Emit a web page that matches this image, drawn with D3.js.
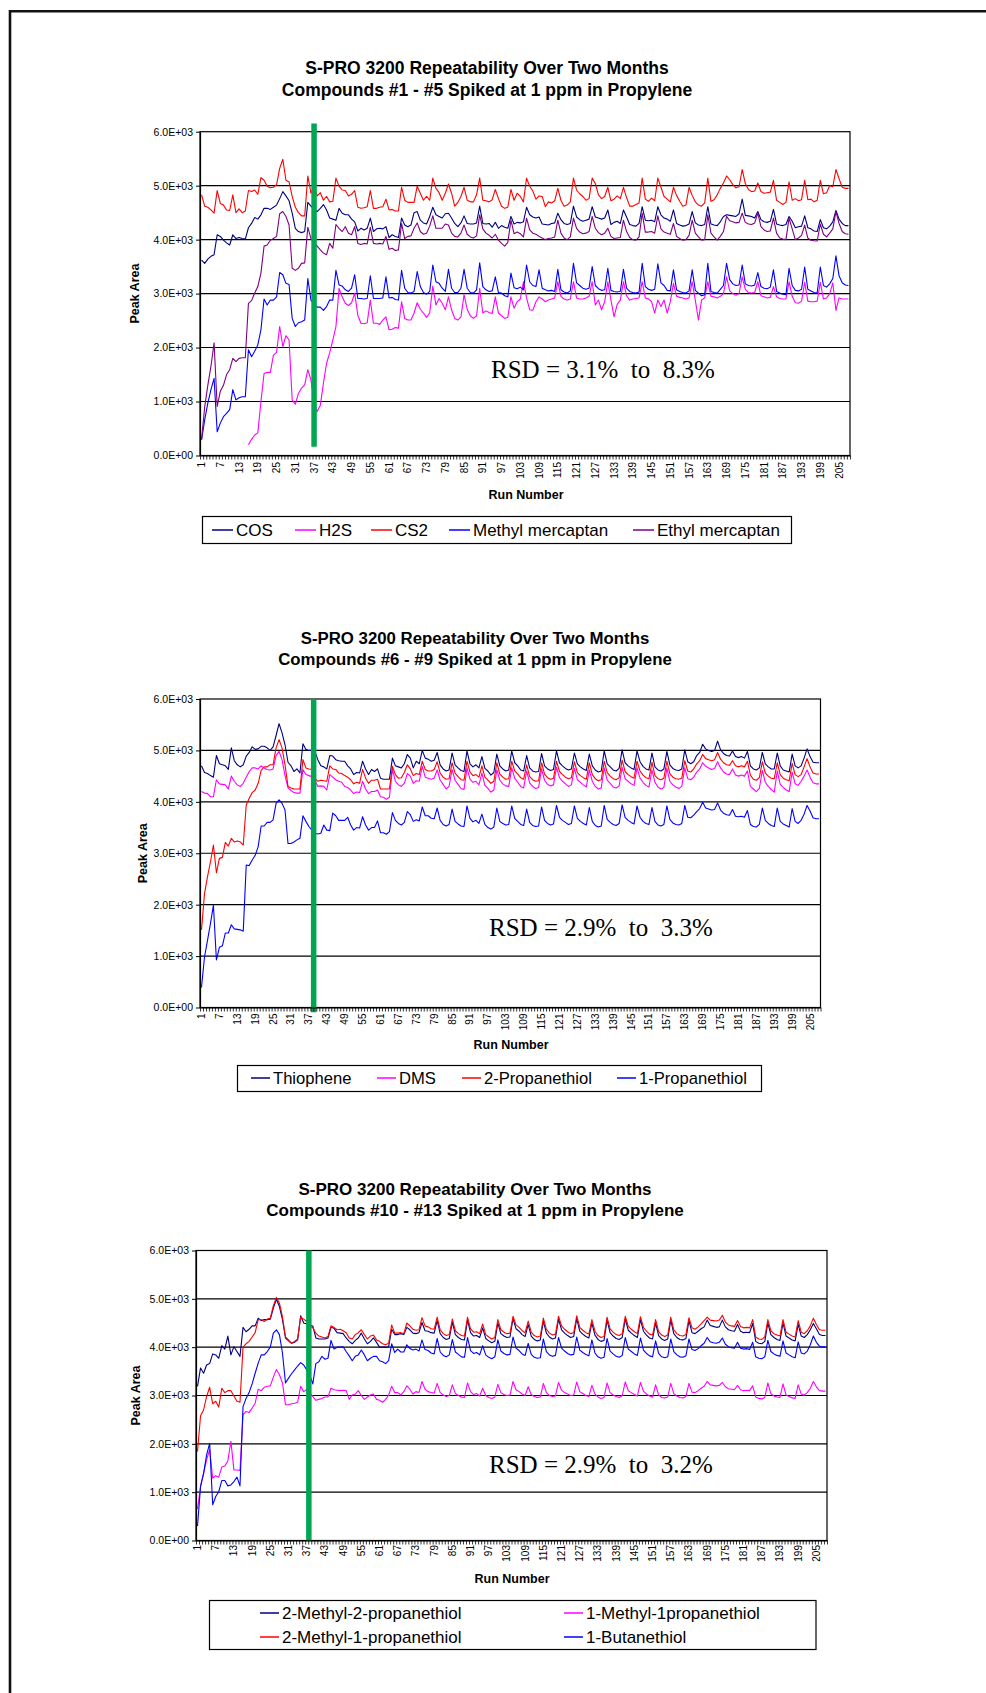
<!DOCTYPE html>
<html>
<head>
<meta charset="utf-8">
<script src="https://cdn.jsdelivr.net/npm/d3@7"></script>
<style>
html,body{margin:0;padding:0;background:#fff;overflow:hidden;}
svg{display:block;}
</style>
</head>
<body>
<svg id="page" width="986" height="1693"></svg>
<script>
// ---------------- DATA ----------------
const runNumbers = d3.range(1, 209);            // runs 1..208 (categories)
const xTickRuns = d3.range(1, 209, 6);          // 1, 7, 13, ... 205
const yTicks = [0, 1000, 2000, 3000, 4000, 5000, 6000];

const chart1Title = ["S-PRO 3200 Repeatability Over Two Months", "Compounds #1 - #5 Spiked at 1 ppm in Propylene"];
const chart2Title = ["S-PRO 3200 Repeatability Over Two Months", "Compounds #6 - #9 Spiked at 1 ppm in Propylene"];
const chart3Title = ["S-PRO 3200 Repeatability Over Two Months", "Compounds #10 - #13 Spiked at 1 ppm in Propylene"];
const rsdTexts = ["RSD = 3.1%  to  8.3%", "RSD = 2.9%  to  3.3%", "RSD = 2.9%  to  3.2%"];
const markerRuns = [37, 38.6, 37.7];

// Chart 1
const cos = [
3620,3560,3640,3690,3720,4090,4060,3990,3940,3900,
4090,4020,4040,4020,4010,4220,4300,4410,4380,4460,
4580,4580,4560,4600,4640,4760,4890,4810,4720,4490,
4210,4150,4130,4150,4690,4620,4550,4520,4580,4650,
4550,4400,4380,4360,4580,4490,4460,4460,4380,4330,
4160,4210,4180,4210,4400,4150,4200,4210,4200,4240,
4040,4090,4060,4040,4400,4270,4240,4270,4500,4520,
4360,4310,4290,4430,4600,4460,4430,4400,4480,4490,
4400,4300,4240,4310,4440,4300,4290,4290,4310,4620,
4300,4290,4300,4230,4320,4210,4260,4230,4210,4430,
4290,4320,4310,4330,4600,4460,4420,4400,4420,4290,
4280,4270,4300,4310,4490,4370,4300,4280,4300,4620,
4420,4370,4340,4360,4380,4610,4420,4400,4380,4400,
4550,4280,4320,4340,4300,4550,4420,4280,4260,4250,
4300,4610,4360,4350,4360,4330,4610,4460,4400,4380,
4340,4550,4300,4270,4250,4260,4290,4520,4310,4270,
4260,4280,4610,4290,4270,4260,4330,4430,4460,4450,
4440,4430,4480,4750,4450,4440,4430,4400,4520,4370,
4330,4320,4340,4560,4290,4270,4260,4280,4430,4340,
4220,4240,4250,4440,4220,4200,4160,4150,4370,4220,
4200,4250,4330,4540,4380,4300,4260,4260];
const h2s = [
null,null,null,null,null,null,null,null,null,null,
null,null,null,null,null,200,300,380,420,1000,
1520,1540,1540,1860,1910,2390,2020,2220,2140,1030,
950,1150,1250,1310,1590,1400,1000,815,930,1340,
1710,1900,2140,2390,3100,2940,2820,2780,2830,3010,
2600,2450,2440,2460,2880,2450,2450,2430,2510,2570,
2330,2340,2370,2360,2850,2540,2510,2510,2640,2830,
2710,2640,2560,2640,3140,2790,2910,2820,2700,2940,
2700,2540,2510,2570,2980,2710,2590,2540,2590,3100,
2640,2680,2650,2630,2940,2640,2590,2540,2560,2940,
2730,2850,2900,3220,2920,2700,2690,2850,2940,2900,
2850,2880,2900,2920,3220,2950,2900,2880,2900,3220,
2920,2900,2900,2920,2950,3220,2790,2880,2700,2850,
3220,2880,2570,2800,2880,3220,2960,2880,2900,2910,
2920,3220,2920,2900,2850,2640,2880,2760,2880,2640,
2850,3190,2950,2930,2920,2900,2920,3220,2880,2510,
2880,2920,3220,2950,2940,2920,2950,3000,3310,3050,
3000,2970,3000,3310,3080,3020,3010,3020,3220,2960,
2940,2920,2930,3130,2940,2910,2900,2900,3220,2950,
2830,2820,2860,3210,2860,2850,2850,2860,3210,2900,
2920,3000,3200,2690,2920,2900,2900,2900];
const cs2 = [
4830,4620,4600,4550,4490,4910,4670,4640,4550,4540,
4830,4500,4570,4500,4530,4910,4890,4920,4840,5150,
5100,4990,4960,4970,5020,5320,5490,5100,5070,4800,
4600,4500,4440,4440,5180,4860,4980,4810,4870,4730,
4800,4700,4710,5140,4990,4920,4910,4810,4840,4910,
4600,4580,4590,4610,4910,4580,4580,4600,4610,4750,
4550,4560,4530,4530,4970,4730,4690,4690,4690,4990,
4860,4730,4800,4730,5140,4950,4870,4730,4860,5030,
4860,4620,4690,4800,4970,4730,4700,4700,4830,5140,
4730,4720,4700,4740,4930,4760,4620,4580,4600,4930,
4730,4860,4800,4700,5140,4990,4900,4750,4810,4800,
4610,4700,4680,4720,4950,4730,4620,4640,4700,5140,
4920,4850,4800,4730,4760,5140,5040,4830,4760,4800,
4970,4720,4750,4810,4760,4970,4780,4620,4620,4650,
4680,5140,4750,4710,4770,4720,5140,4970,4800,4750,
4700,4970,4820,4710,4620,4640,4970,4820,4700,4640,
4620,4680,5140,4710,4740,4830,4950,5050,5180,5110,
5020,4960,4980,5300,5040,4930,4890,4900,5050,4890,
4860,4870,4880,5100,4730,4690,4650,4690,5070,4730,
4760,4720,4740,5100,4740,4750,4700,4730,5100,4850,
4870,5000,4980,5300,5130,4970,4950,4950];
const methylMercaptan = [
290,660,970,1220,1430,440,600,720,780,850,
1220,1030,1070,1090,1090,1960,1830,1930,2050,2330,
2900,2790,2880,2880,2940,3390,3350,3190,3170,2540,
2390,2460,2480,2510,3280,2880,2800,2750,2750,2690,
2760,2880,2880,3430,3160,3140,3070,3040,3100,3350,
2910,2910,2900,2910,3330,2910,2910,2910,2920,3310,
2920,2930,2890,2880,3430,3100,3020,3010,3040,3410,
3130,3020,2990,3040,3530,3220,3190,3100,3040,3450,
3100,3020,3020,3100,3450,3100,3020,3010,3070,3570,
3130,3070,3040,3050,3310,3020,3010,2960,2940,3380,
3110,3090,3120,3070,3530,3220,3150,3130,3440,3100,
3070,3050,3060,3040,3450,3070,3030,3010,3050,3560,
3200,3150,3100,3080,3100,3500,3150,3090,3060,3070,
3470,3060,3040,3030,3040,3450,3100,3040,3020,3010,
3030,3560,3130,3080,3060,3080,3550,3200,3150,3060,
3050,3440,3070,3040,3020,3010,3050,3440,3060,3010,
2960,2980,3560,3040,3020,3010,3080,3150,3560,3260,
3180,3150,3160,3530,3180,3150,3140,3160,3390,3130,
3100,3090,3120,3440,3040,3010,2990,2980,3470,3150,
3060,3050,3080,3490,3080,3050,3020,3015,3490,3150,
3120,3180,3280,3700,3330,3200,3160,3150];
const ethylMercaptan = [
300,900,1300,1650,2090,910,1190,1300,1500,1590,
1800,1740,1800,1810,1810,2820,2870,3010,3130,3380,
3880,3900,3990,4020,4060,4480,4520,4430,4270,3470,
3430,3470,3560,3570,4230,4020,3950,3880,3810,3750,
3720,3930,3840,4280,4210,4150,4240,4120,4090,4240,
3930,3910,3930,3920,4230,3930,3920,3930,3920,4060,
3820,3840,3800,3810,4300,4020,4060,4070,4210,4310,
4150,4100,4120,4250,4440,4210,4210,4210,4290,4270,
4120,4060,4050,4120,4270,4100,4050,4030,4070,4460,
4200,4120,4080,4030,4100,3990,3930,3880,3950,4360,
4110,4140,4110,4050,4400,4180,4120,4100,4060,4030,
4000,4020,4030,4050,4360,4120,4030,4000,4050,4400,
4210,4140,4110,4120,4150,4430,4210,4130,4090,4120,
4210,4060,4020,4030,4040,4360,4150,4040,4000,3990,
4050,4490,4140,4140,4150,4120,4440,4200,4140,4120,
4100,4300,4060,4020,3990,4000,4080,4360,4120,4050,
3990,4000,4460,4120,4050,3990,4060,4150,4430,4350,
4330,4310,4320,4490,4320,4290,4280,4310,4490,4240,
4180,4150,4160,4400,4120,4030,4010,4000,4400,4200,
4000,4030,4080,4270,4030,3990,3980,3975,4290,4100,
4050,4120,4200,4520,4300,4150,4110,4100];

// Chart 2
const thiophene = [
4700,4570,4550,4510,4480,4900,4740,4720,4700,4630,
5050,4800,4720,4680,4720,4890,4960,5070,5020,5030,
5080,5080,5050,5000,5070,5290,5520,5340,5110,4770,
4700,4590,4640,4560,5130,5020,5000,5000,4980,4820,
4700,4680,4640,4900,4890,4820,4800,4790,4790,4700,
4640,4530,4570,4560,4790,4640,4530,4630,4590,4640,
4460,4440,4440,4440,4850,4700,4680,4660,4740,4920,
4850,4660,4790,4740,5000,4850,4830,4790,4810,4960,
4720,4640,4600,4620,4950,4720,4660,4610,4590,4990,
4740,4680,4720,4660,4880,4650,4600,4520,4570,4930,
4700,4640,4600,4620,4990,4760,4700,4620,4600,4900,
4660,4600,4580,4590,4940,4700,4640,4610,4630,4990,
4760,4700,4650,4620,4640,4950,4740,4680,4640,4610,
4930,4700,4620,4580,4600,4990,4740,4680,4620,4600,
4650,5010,4760,4700,4660,4630,4990,4780,4690,4640,
4620,4950,4680,4620,4600,4640,4980,4720,4650,4620,
4610,4640,5010,4780,4740,4780,4900,4960,5120,5030,
5000,4980,5000,5180,5010,4940,4900,4890,4990,4880,
4860,4880,4850,4980,4700,4640,4620,4660,4960,4740,
4680,4640,4640,4950,4700,4620,4600,4580,4930,4700,
4660,4700,4850,5030,4880,4770,4760,4760];
const dms = [
4200,4170,4160,4100,4100,4430,4350,4340,4330,4250,
4500,4400,4330,4300,4360,4480,4590,4660,4660,4640,
4700,4660,4630,4620,4640,4900,4980,4820,4510,4270,
4220,4180,4170,4170,4630,4530,4510,4490,4420,4300,
4310,4300,4230,4530,4480,4430,4400,4380,4300,4280,
4230,4160,4190,4180,4400,4250,4160,4200,4200,4230,
4100,4090,4050,4090,4630,4400,4330,4300,4360,4550,
4500,4360,4410,4400,4690,4480,4460,4440,4460,4620,
4420,4340,4250,4300,4630,4420,4340,4260,4240,4660,
4440,4380,4400,4330,4560,4320,4260,4190,4230,4620,
4420,4350,4310,4300,4660,4460,4380,4300,4270,4600,
4370,4300,4260,4280,4640,4420,4340,4310,4330,4670,
4470,4400,4350,4300,4330,4650,4430,4380,4330,4290,
4620,4400,4300,4250,4270,4660,4420,4360,4290,4270,
4310,4670,4450,4400,4350,4320,4660,4460,4380,4320,
4290,4620,4380,4290,4250,4280,4650,4400,4330,4290,
4260,4300,4660,4450,4430,4480,4580,4640,4760,4690,
4660,4630,4650,4780,4660,4580,4540,4530,4640,4520,
4500,4520,4500,4600,4300,4250,4200,4260,4610,4380,
4300,4240,4190,4600,4340,4280,4230,4200,4580,4350,
4320,4400,4500,4620,4480,4370,4350,4350];
const propanethiol2 = [
1510,2210,2540,2830,3160,2620,2900,2920,3210,3140,
3290,3220,3240,3220,3160,3940,4070,4180,4230,4360,
4610,4680,4680,4720,4720,5050,5210,5050,4720,4300,
4270,4250,4250,4250,4820,4660,4640,4630,4460,4400,
4420,4410,4400,4700,4640,4630,4560,4550,4510,4480,
4430,4350,4380,4360,4630,4460,4360,4420,4420,4440,
4250,4250,4250,4250,4690,4530,4460,4470,4570,4720,
4640,4510,4550,4530,4790,4630,4600,4600,4630,4780,
4560,4480,4440,4450,4760,4560,4490,4430,4420,4790,
4580,4510,4530,4480,4700,4480,4420,4360,4400,4760,
4540,4480,4440,4450,4790,4600,4540,4470,4440,4720,
4490,4430,4400,4410,4760,4540,4470,4440,4460,4790,
4590,4530,4480,4450,4470,4780,4570,4510,4470,4440,
4760,4530,4450,4410,4430,4790,4570,4500,4450,4430,
4470,4810,4590,4530,4490,4460,4790,4600,4520,4470,
4450,4770,4510,4450,4430,4460,4790,4550,4480,4450,
4440,4460,4800,4600,4580,4640,4740,4800,4920,4840,
4820,4800,4820,4960,4830,4760,4720,4710,4800,4700,
4680,4700,4680,4790,4520,4440,4420,4470,4780,4560,
4500,4460,4450,4760,4530,4460,4430,4410,4750,4530,
4490,4530,4680,4840,4680,4560,4540,4540];
const propanethiol1 = [
390,977,1300,1630,1990,925,1170,1200,1450,1450,
1610,1530,1520,1510,1485,2770,2760,2870,2960,3130,
3530,3530,3600,3600,3650,3970,4040,3970,3840,3190,
3190,3220,3260,3290,3730,3620,3520,3450,3390,3375,
3390,3550,3450,3440,3780,3730,3640,3640,3640,3700,
3550,3450,3500,3490,3710,3550,3450,3500,3500,3630,
3400,3400,3370,3420,3790,3640,3580,3550,3600,3810,
3750,3620,3650,3630,3900,3730,3730,3680,3670,3880,
3640,3560,3530,3560,3860,3620,3570,3530,3520,3920,
3680,3610,3640,3580,3760,3560,3500,3470,3510,3880,
3620,3580,3550,3560,3920,3680,3620,3560,3540,3860,
3600,3540,3520,3530,3900,3640,3580,3550,3570,3930,
3700,3640,3600,3560,3580,3920,3680,3620,3580,3550,
3890,3620,3540,3510,3530,3930,3660,3600,3560,3540,
3580,3940,3700,3640,3600,3570,3920,3700,3620,3580,
3560,3890,3620,3550,3530,3560,3920,3660,3590,3560,
3550,3580,3930,3700,3690,3740,3810,3870,3990,3880,
3860,3840,3850,3980,3840,3780,3750,3740,3850,3720,
3710,3720,3700,3830,3560,3520,3510,3560,3880,3640,
3580,3540,3520,3880,3620,3570,3540,3510,3870,3620,
3580,3640,3760,3930,3820,3690,3670,3670];

// Chart 3
const methyl2propanethiol2 = [
3190,3570,3460,3630,3660,3860,3840,3770,4030,3960,
4230,3840,4010,3910,3810,4410,4320,4370,4440,4440,
4600,4550,4570,4570,4580,4810,4990,4840,4570,4190,
4130,4080,4100,4150,4650,4500,4480,4460,4440,4190,
4170,4170,4170,4190,4410,4390,4300,4290,4280,4190,
4120,4070,4140,4190,4290,4170,4070,4120,4190,4100,
4000,4000,4000,4010,4370,4260,4260,4280,4260,4410,
4360,4290,4280,4300,4510,4340,4330,4300,4290,4550,
4280,4200,4160,4180,4520,4260,4200,4160,4150,4560,
4300,4230,4240,4200,4400,4180,4130,4090,4120,4500,
4280,4230,4200,4210,4590,4380,4330,4260,4220,4470,
4230,4160,4130,4150,4540,4290,4210,4170,4190,4580,
4360,4290,4240,4200,4220,4590,4330,4270,4220,4190,
4500,4250,4160,4120,4140,4560,4300,4230,4180,4160,
4200,4580,4350,4290,4240,4200,4570,4330,4250,4190,
4170,4500,4240,4170,4140,4170,4560,4280,4200,4160,
4150,4180,4550,4300,4280,4330,4380,4420,4560,4450,
4430,4410,4420,4560,4420,4360,4340,4330,4470,4330,
4300,4310,4300,4490,4120,4080,4070,4120,4500,4260,
4200,4160,4140,4500,4230,4190,4150,4130,4470,4230,
4200,4260,4360,4490,4380,4260,4240,4240];
const methyl1propanethiol1 = [
650,1120,1390,1670,1880,1290,1340,1310,1520,1540,
1650,2050,1460,1460,1450,2600,2670,2650,2740,2840,
3130,3100,3170,3190,3200,3380,3540,3430,3260,2810,
2810,2830,2840,2860,3190,3080,3120,3050,2980,2900,
2920,2940,2970,2970,3150,3120,3110,3100,3110,3100,
2920,3010,3030,3100,3000,2920,2970,3010,3030,2920,
2900,2860,2920,3010,3190,3060,3060,3010,3080,3200,
3130,3030,3080,3060,3290,3130,3080,3060,3050,3250,
3060,3010,2980,3000,3220,3040,3000,2970,2960,3260,
3080,3020,3040,2990,3150,3000,2960,2940,2970,3230,
3060,3020,3000,3010,3290,3120,3080,3030,3000,3180,
3020,2980,2960,2970,3250,3060,3000,2980,2990,3270,
3110,3060,3030,3000,3010,3280,3080,3040,3000,2980,
3210,3030,2970,2940,2960,3260,3060,3010,2980,2960,
3000,3280,3100,3060,3020,2990,3270,3090,3030,2990,
2970,3220,3010,2960,2950,2970,3250,3040,2990,2960,
2950,2980,3250,3070,3060,3100,3150,3190,3290,3220,
3210,3200,3210,3270,3180,3140,3130,3120,3210,3120,
3100,3110,3100,3200,2970,2940,2930,2960,3260,3040,
2990,2970,2960,3240,3010,2980,2950,2940,3220,3030,
3010,3060,3150,3290,3180,3100,3090,3090];
const methyl2propanethiol1 = [
1840,2580,2700,2980,3170,2830,2880,2760,3150,3060,
3100,3100,2990,2880,2860,4000,4070,4120,4210,4300,
4570,4570,4530,4580,4600,4860,5030,4910,4630,4210,
4150,4080,4120,4170,4620,4580,4530,4440,4400,4290,
4230,4210,4190,4220,4440,4410,4360,4370,4340,4300,
4190,4170,4260,4300,4360,4260,4170,4230,4250,4150,
4120,4070,4050,4080,4460,4290,4290,4300,4280,4500,
4440,4370,4350,4360,4610,4440,4420,4380,4370,4620,
4360,4280,4240,4260,4580,4340,4280,4240,4230,4620,
4380,4310,4320,4280,4480,4260,4210,4170,4200,4570,
4360,4310,4280,4290,4640,4460,4410,4340,4300,4540,
4310,4240,4210,4230,4600,4370,4290,4250,4270,4640,
4440,4370,4320,4280,4300,4650,4410,4350,4300,4270,
4570,4330,4240,4200,4220,4620,4380,4310,4260,4240,
4280,4640,4430,4370,4320,4280,4630,4410,4330,4270,
4250,4570,4320,4250,4220,4250,4620,4360,4280,4240,
4230,4260,4610,4400,4370,4420,4480,4550,4620,4560,
4550,4540,4560,4660,4520,4460,4440,4430,4550,4430,
4400,4410,4400,4570,4210,4170,4160,4210,4570,4340,
4280,4250,4230,4570,4310,4270,4230,4210,4550,4310,
4280,4340,4440,4600,4470,4360,4350,4350];
const butanethiol1 = [
300,1120,1390,1770,2010,740,910,1010,1240,1240,
1130,1150,1220,1310,1130,2770,2940,3060,3240,3460,
3670,3840,3840,3910,4000,4290,4360,4260,3880,3260,
3360,3450,3530,3610,3680,3630,3530,3420,3240,3660,
3700,3810,3750,3770,4140,3960,4000,4000,4010,3910,
3820,3720,3810,3840,3940,3840,3720,3770,3810,3810,
3720,3700,3660,3720,4070,3890,3960,3900,3900,4050,
3970,3940,3960,3920,4150,3950,3930,3880,3860,4180,
3900,3830,3800,3840,4160,3900,3850,3800,3790,4200,
3930,3870,3890,3840,4030,3840,3790,3760,3800,4150,
3920,3870,3840,3850,4210,3980,3930,3860,3830,4080,
3850,3790,3770,3780,4170,3910,3840,3810,3830,4200,
3980,3920,3870,3840,3850,4210,3940,3890,3850,3820,
4150,3880,3800,3770,3790,4180,3920,3860,3810,3790,
3830,4200,3960,3910,3860,3830,4190,3940,3870,3820,
3800,4130,3870,3800,3780,3800,4170,3910,3840,3800,
3790,3820,4170,3950,3930,3970,4030,4080,4200,4110,
4090,4080,4100,4190,4060,4010,3990,3980,4100,3980,
3960,3970,3950,4100,3800,3770,3760,3800,4140,3910,
3860,3830,3810,4130,3880,3840,3800,3780,4110,3880,
3860,3920,4050,4230,4100,4020,4010,4010];

// ---------------- CHART SETUP ----------------
const SANS = "'Liberation Sans', Arial, Helvetica, sans-serif";
const SERIF = "'Liberation Serif', 'Times New Roman', Times, serif";
const NAVY = "#000080", MAGENTA = "#FF00FF", RED = "#FF0000", BLUE = "#0000FF", PURPLE = "#800080";
const GREEN = "#00A651";

const charts = [
  {
    title: chart1Title, titleX: 487, titleY: [74, 96], titleSize: 17.5,
    x0: 200, x1: 850, yt: 131.7, yb: 455.5,
    series: [
      {name: "COS", data: cos, color: NAVY},
      {name: "H2S", data: h2s, color: MAGENTA},
      {name: "CS2", data: cs2, color: RED},
      {name: "Methyl mercaptan", data: methylMercaptan, color: BLUE},
      {name: "Ethyl mercaptan", data: ethylMercaptan, color: PURPLE}
    ],
    yTitleX: 135, xTitle: [526, 499], xLabelOff: 6.5,
    rsd: [491, 378, rsdTexts[0]],
    marker: [markerRuns[0], 6150, 160],
    legend: {box: [202, 516, 791, 543], size: 17, lineLen: 21,
      pos: [[212, 530], [295, 530], [371, 530], [449, 530], [633, 530]]}
  },
  {
    title: chart2Title, titleX: 475, titleY: [644, 664.5], titleSize: 16.8,
    x0: 200, x1: 820.5, yt: 699, yb: 1007.5,
    series: [
      {name: "Thiophene", data: thiophene, color: NAVY},
      {name: "DMS", data: dms, color: MAGENTA},
      {name: "2-Propanethiol", data: propanethiol2, color: RED},
      {name: "1-Propanethiol", data: propanethiol1, color: BLUE}
    ],
    yTitleX: 142.5, xTitle: [511, 1049], xLabelOff: 6,
    rsd: [489, 936, rsdTexts[1]],
    marker: [markerRuns[1], 6000, -90],
    legend: {box: [237, 1065, 761, 1091], size: 16.6, lineLen: 19,
      pos: [[251, 1078], [377, 1078], [462, 1078], [617, 1078]]}
  },
  {
    title: chart3Title, titleX: 475, titleY: [1195, 1216], titleSize: 17,
    x0: 196, x1: 827, yt: 1250.5, yb: 1540.5,
    series: [
      {name: "2-Methyl-2-propanethiol", data: methyl2propanethiol2, color: NAVY},
      {name: "1-Methyl-1propanethiol", data: methyl1propanethiol1, color: MAGENTA},
      {name: "2-Methyl-1-propanethiol", data: methyl2propanethiol1, color: RED},
      {name: "1-Butanethiol", data: butanethiol1, color: BLUE}
    ],
    yTitleX: 135.5, xTitle: [512, 1583], xLabelOff: 4.5,
    rsd: [489, 1473, rsdTexts[2]],
    marker: [markerRuns[2], 6000, 0],
    legend: {box: [209, 1600, 815.5, 1649], size: 17, lineLen: 19,
      pos: [[260, 1613], [564, 1613], [260, 1637], [564, 1637]]}
  }
];

charts.forEach(c => c.series.forEach(s => {
  if (s.data.length !== runNumbers.length) throw new Error(s.name + " has " + s.data.length + " values");
}));

const svg = d3.select("#page");
svg.append("rect").attr("width", 986).attr("height", 1693).attr("fill", "#fff");

// page frame (left + top edges only)
svg.append("path").attr("d", "M10,1693 V11.3 H986").attr("fill", "none").attr("stroke", "#111").attr("stroke-width", 2.6);

const fmtE = d => d === 0 ? "0.0E+00" : (d / 1000).toFixed(1) + "E+03";

charts.forEach(c => {
  const g = svg.append("g");
  const x = d3.scaleLinear().domain([0.5, runNumbers.length + 0.5]).range([c.x0, c.x1]);
  const y = d3.scaleLinear().domain([0, 6000]).range([c.yb, c.yt]);

  // title
  c.title.forEach((t, i) => {
    g.append("text").attr("x", c.titleX).attr("y", c.titleY[i])
      .attr("text-anchor", "middle").attr("font-family", SANS)
      .attr("font-weight", "bold").attr("font-size", c.titleSize).text(t);
  });

  // gridlines
  g.append("g").selectAll("line").data(yTicks.filter(v => v > 0 && v < 6000)).join("line")
    .attr("x1", c.x0).attr("x2", c.x1)
    .attr("y1", d => y(d)).attr("y2", d => y(d))
    .attr("stroke", "#000").attr("stroke-width", 1.1);

  // plot border
  g.append("rect").attr("x", c.x0).attr("y", c.yt)
    .attr("width", c.x1 - c.x0).attr("height", c.yb - c.yt)
    .attr("fill", "none").attr("stroke", "#000").attr("stroke-width", 1.2);

  // series
  const line = d3.line().defined(d => d != null)
    .x((d, i) => x(runNumbers[i])).y(d => y(d));
  c.series.forEach(s => {
    g.append("path").datum(s.data).attr("d", line)
      .attr("fill", "none").attr("stroke", s.color).attr("stroke-width", 1.1)
      .attr("stroke-linejoin", "round");
  });

  // green marker line
  g.append("line")
    .attr("x1", x(c.marker[0])).attr("x2", x(c.marker[0]))
    .attr("y1", y(c.marker[1])).attr("y2", y(c.marker[2]))
    .attr("stroke", GREEN).attr("stroke-width", 5.5);

  // y axis
  const ya = g.append("g").attr("transform", `translate(${c.x0},0)`)
    .call(d3.axisLeft(y).tickValues(yTicks).tickSize(4).tickSizeOuter(0).tickPadding(3).tickFormat(fmtE));
  ya.attr("font-family", SANS).attr("font-size", 10.5);
  ya.select(".domain").attr("stroke-width", 1.2);

  // x axis (tick marks at category boundaries)
  const xa = g.append("g").attr("transform", `translate(0,${c.yb})`)
    .call(d3.axisBottom(x).tickValues(d3.range(0.5, runNumbers.length + 1, 1)).tickSize(4).tickSizeOuter(0).tickFormat(""));
  xa.select(".domain").attr("stroke-width", 1.2);
  xa.selectAll(".tick line").attr("stroke-width", 0.8);

  // x tick labels (rotated)
  g.append("g").selectAll("text").data(xTickRuns).join("text")
    .attr("transform", d => `translate(${x(d)},${c.yb + c.xLabelOff}) rotate(-90)`)
    .attr("text-anchor", "end").attr("dy", "0.35em")
    .attr("font-family", SANS).attr("font-size", 10).text(d => d);

  // axis titles
  g.append("text").attr("transform", `translate(${c.yTitleX},${(c.yt + c.yb) / 2}) rotate(-90)`)
    .attr("text-anchor", "middle").attr("dy", "0.35em")
    .attr("font-family", SANS).attr("font-weight", "bold").attr("font-size", 12.5).text("Peak Area");
  g.append("text").attr("x", c.xTitle[0]).attr("y", c.xTitle[1])
    .attr("text-anchor", "middle").attr("font-family", SANS)
    .attr("font-weight", "bold").attr("font-size", 12.5).text("Run Number");

  // RSD annotation
  g.append("text").attr("x", c.rsd[0]).attr("y", c.rsd[1])
    .attr("font-family", SERIF).attr("font-size", 25).style("white-space", "pre")
    .attr("xml:space", "preserve").text(c.rsd[2]);

  // legend
  const L = c.legend;
  g.append("rect").attr("x", L.box[0] + 0.5).attr("y", L.box[1] + 0.5)
    .attr("width", L.box[2] - L.box[0]).attr("height", L.box[3] - L.box[1])
    .attr("fill", "#fff").attr("stroke", "#000").attr("stroke-width", 1.2);
  c.series.forEach((s, i) => {
    const [lx, ly] = L.pos[i];
    g.append("line").attr("x1", lx).attr("x2", lx + L.lineLen).attr("y1", ly).attr("y2", ly)
      .attr("stroke", s.color).attr("stroke-width", 1.5);
    g.append("text").attr("x", lx + L.lineLen + 3).attr("y", ly).attr("dy", "0.35em")
      .attr("font-family", SANS).attr("font-size", L.size).text(s.name);
  });
});
</script>
</body>
</html>
